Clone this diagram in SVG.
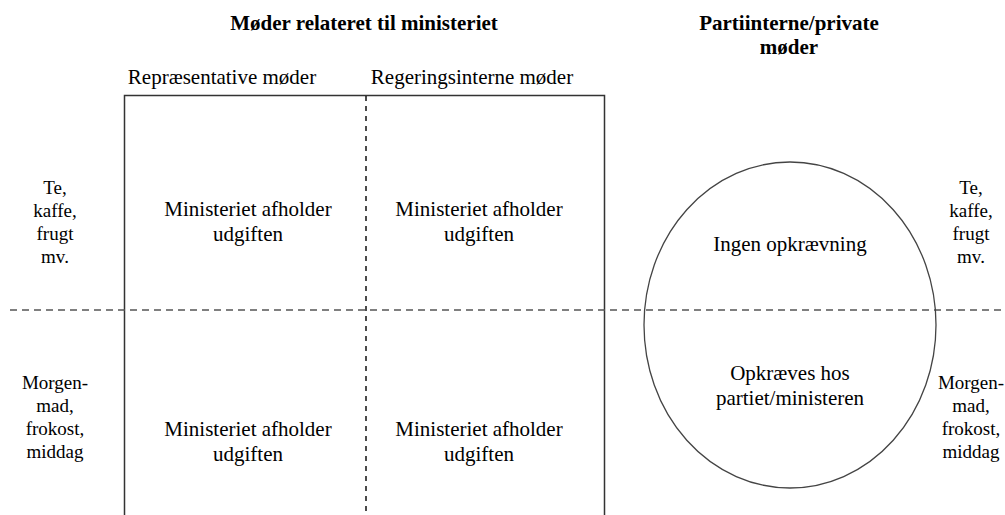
<svg xmlns="http://www.w3.org/2000/svg" width="1005" height="515" viewBox="0 0 1005 515">
<style>
.h{font-weight:bold;font-size:21px;text-anchor:middle;fill:#000}
.t{font-size:21px;text-anchor:middle;fill:#000}
.s{font-size:19px;text-anchor:middle;fill:#000}
.solid{fill:none;stroke:#333;stroke-width:1.5}
.dash{fill:none;stroke:#555;stroke-width:1.5;stroke-dasharray:7 5}
.vdash{fill:none;stroke:#111;stroke-width:1.5;stroke-dasharray:5 5}
</style>
<rect width="1005" height="515" fill="#fff"/>
<g id="headers">
<text class="h" font-family="Liberation Serif" x="364" y="30">Møder relateret til ministeriet</text>
<text class="h" font-family="Liberation Serif" x="789" y="30">Partiinterne/private</text>
<text class="h" font-family="Liberation Serif" x="789" y="54">møder</text>
<text class="t" font-family="Liberation Serif" x="222" y="84">Repræsentative møder</text>
<text class="t" font-family="Liberation Serif" x="472" y="84">Regeringsinterne møder</text>
</g>
<g id="connectors">
<path class="solid" d="M124.5,515 V95.5 H604.5 V515"/>
<line class="vdash" x1="366" y1="96" x2="366" y2="515"/>
<line class="dash" x1="10" y1="310" x2="1005" y2="310"/>
</g>
<g id="ellipse-node">
<ellipse cx="790" cy="325" rx="146" ry="163" fill="none" stroke="#444" stroke-width="1.3"/>
<text class="t" font-family="Liberation Serif" x="790" y="251">Ingen opkrævning</text>
<text class="t" font-family="Liberation Serif" x="790" y="380">Opkræves hos</text>
<text class="t" font-family="Liberation Serif" x="790" y="405">partiet/ministeren</text>
</g>
<g id="cell-top-left">
<text class="t" font-family="Liberation Serif" x="248" y="216">Ministeriet afholder</text>
<text class="t" font-family="Liberation Serif" x="248" y="241">udgiften</text>
</g>
<g id="cell-top-right">
<text class="t" font-family="Liberation Serif" x="479" y="216">Ministeriet afholder</text>
<text class="t" font-family="Liberation Serif" x="479" y="241">udgiften</text>
</g>
<g id="cell-bottom-left">
<text class="t" font-family="Liberation Serif" x="248" y="436">Ministeriet afholder</text>
<text class="t" font-family="Liberation Serif" x="248" y="461">udgiften</text>
</g>
<g id="cell-bottom-right">
<text class="t" font-family="Liberation Serif" x="479" y="436">Ministeriet afholder</text>
<text class="t" font-family="Liberation Serif" x="479" y="461">udgiften</text>
</g>
<g id="label-left-top">
<text class="s" font-family="Liberation Serif" x="55" y="194">Te,</text>
<text class="s" font-family="Liberation Serif" x="55" y="217">kaffe,</text>
<text class="s" font-family="Liberation Serif" x="55" y="240">frugt</text>
<text class="s" font-family="Liberation Serif" x="55" y="263">mv.</text>
</g>
<g id="label-left-bottom">
<text class="s" font-family="Liberation Serif" x="55" y="389">Morgen-</text>
<text class="s" font-family="Liberation Serif" x="55" y="412">mad,</text>
<text class="s" font-family="Liberation Serif" x="55" y="435">frokost,</text>
<text class="s" font-family="Liberation Serif" x="55" y="458">middag</text>
</g>
<g id="label-right-top">
<text class="s" font-family="Liberation Serif" x="971" y="194">Te,</text>
<text class="s" font-family="Liberation Serif" x="971" y="217">kaffe,</text>
<text class="s" font-family="Liberation Serif" x="971" y="240">frugt</text>
<text class="s" font-family="Liberation Serif" x="971" y="263">mv.</text>
</g>
<g id="label-right-bottom">
<text class="s" font-family="Liberation Serif" x="971" y="389">Morgen-</text>
<text class="s" font-family="Liberation Serif" x="971" y="412">mad,</text>
<text class="s" font-family="Liberation Serif" x="971" y="435">frokost,</text>
<text class="s" font-family="Liberation Serif" x="971" y="458">middag</text>
</g>
</svg>
